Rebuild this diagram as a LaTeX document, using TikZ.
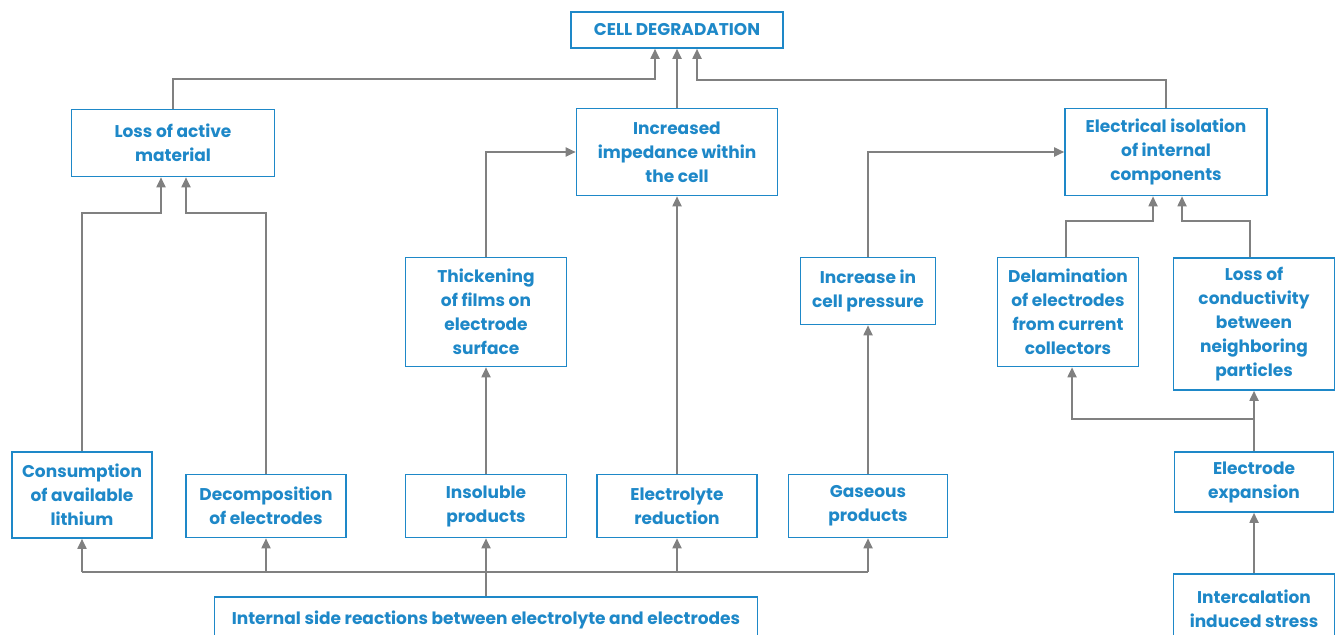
\documentclass[tikz,border=0pt]{standalone}
\usepackage{fontspec}
\setmainfont{Poppins}
\usetikzlibrary{arrows.meta}

\definecolor{cellblue}{HTML}{1E88C8}
\definecolor{cellgray}{HTML}{808080}

\tikzset{
  box/.style={draw=cellblue, line width=1.6pt, text=cellblue, fill=white,
    font=\fontsize{17}{24}\selectfont\bfseries, align=center, inner sep=0pt},
  link/.style={draw=cellgray, line width=1.8pt},
}

\begin{document}
\begin{tikzpicture}[x=1pt, y=-1pt, >={Triangle[length=10pt,width=9pt]}]
    \useasboundingbox (0,0) rectangle (1337,634);

    % top
    \node[box, minimum width=212pt, minimum height=36pt] (deg) at (677,30) {CELL DEGRADATION};

    % second row
    \node[box, minimum width=203pt, minimum height=67pt] (loss) at (173,143) {Loss of active\\material};
    \node[box, minimum width=201pt, minimum height=87pt] (imp) at (677,152) {Increased\\impedance within\\the cell};
    \node[box, minimum width=202pt, minimum height=87pt] (iso) at (1166,152) {Electrical isolation\\of internal\\components};

    % third row
    \node[box, minimum width=161pt, minimum height=109pt] (thick) at (486,312) {Thickening\\of films on\\electrode\\surface};
    \node[box, minimum width=135pt, minimum height=67pt] (press) at (868,291) {Increase in\\cell pressure};
    \node[box, minimum width=141pt, minimum height=109pt] (delam) at (1068,312) {Delamination\\of electrodes\\from current\\collectors};
    \node[box, minimum width=161pt, minimum height=132pt] (cond) at (1254,324) {Loss of\\conductivity\\between\\neighboring\\particles};

    % fourth row
    \node[box, minimum width=140pt, minimum height=86pt] (cons) at (82,495) {Consumption\\of available\\lithium};
    \node[box, minimum width=160pt, minimum height=63pt] (dec) at (266,506) {Decomposition\\of electrodes};
    \node[box, minimum width=161pt, minimum height=63pt] (ins) at (486,506) {Insoluble\\products};
    \node[box, minimum width=160pt, minimum height=63pt] (elred) at (677,506) {Electrolyte\\reduction};
    \node[box, minimum width=159pt, minimum height=63pt] (gas) at (868,506) {Gaseous\\products};
    \node[box, minimum width=159pt, minimum height=60pt] (exp) at (1254,482) {Electrode\\expansion};

    % bottom (cut by the page edge)
    \node[box, minimum width=161pt, minimum height=70pt] (stress) at (1254,609) {Intercalation\\induced stress};
    \node[box, minimum width=543pt, minimum height=46pt] (side) at (486,620) {Internal side reactions between electrolyte and electrodes};

    % into cell degradation
    \draw[link,->] (loss.north) -- ++(0,-30) -| ([xshift=-22pt]deg.south);
    \draw[link,->] (imp.north) -- (deg.south);
    \draw[link,->] (iso.north) -- ++(0,-28) -| ([xshift=20pt]deg.south);

    % into loss of active material
    \draw[link,->] (cons.north) -- (cons.north |- 0,213) -| ([xshift=-12pt]loss.south);
    \draw[link,->] (dec.north) -- (dec.north |- 0,213) -| ([xshift=13pt]loss.south);

    % into impedance
    \draw[link,->] (thick.north) |- (imp.west);
    \draw[link,->] (ins.north) -- (thick.south);
    \draw[link,->] (elred.north) -- (imp.south);

    % into isolation
    \draw[link,->] (press.north) |- (iso.west);
    \draw[link,->] (gas.north) -- (press.south);
    \draw[link,->] ([xshift=-2pt]delam.north) -- ++(0,-36) -| ([xshift=-13pt]iso.south);
    \draw[link,->] ([xshift=-4pt]cond.north) -- ++(0,-36) -| ([xshift=16pt]iso.south);

    % expansion
    \draw[link,->] (exp.north) -- (cond.south);
    \draw[link,->] (exp.north) -- ++(0,-32) -| ([xshift=4pt]delam.south);
    \draw[link,->] (stress.north) -- (exp.south);

    % side reactions
    \draw[link,->] (side.north) -- (ins.south);
    \draw[link] (cons.south |- 0,572) -- (gas.south |- 0,572);
    \foreach \n in {cons,dec,elred,gas}
      \draw[link,->] (\n.south |- 0,572) -- (\n.south);
  \end{tikzpicture}
\end{document}
